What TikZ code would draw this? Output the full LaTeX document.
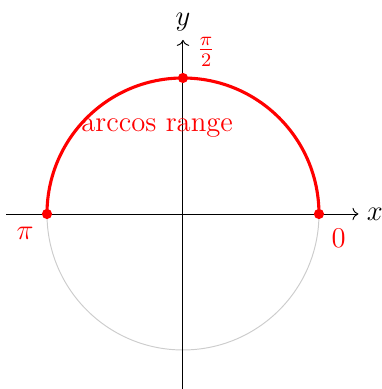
\documentclass[tikz,border=0pt]{standalone}
\usepackage{amsmath}
\usetikzlibrary{arrows.meta, positioning}

\begin{document}
\begin{tikzpicture}[
    axis/.style={->, line width=0.4pt},
    fullcircle/.style={draw=black!20, line width=0.4pt},
    rangearc/.style={draw=red, line width=1.3pt},
    pt/.style={circle, fill=red, inner sep=0pt, minimum size=0.15cm},
    redlabel/.style={text=red, font=\large},
    axlabel/.style={font=\large},
]
\useasboundingbox (-2.691,-2.574) rectangle (2.926,3.147);
% unit circle and the arccos part of it
\draw[fullcircle] (0,0) circle (2);
\draw[rangearc] (2,0) arc (0:180:2);
% axes
\coordinate (xl) at (-2.6,0);
\coordinate (xr) at (2.58,0);
\coordinate (yb) at (0,-2.6);
\coordinate (yt) at (0,2.56);
\draw[axis] (xl) -- (xr);
\draw[axis] (yb) -- (yt);
\node[axlabel, right=0pt of xr] (xlab) {$x$};
\node[axlabel, above=0pt of yt] (ylab) {$y$};
% end points of the range
\node[pt] (p0) at (2,0) {};
\node[pt] (ppi) at (-2,0) {};
\node[pt] (phalf) at (0,2) {};
\node[redlabel] (l0) at (2.29,-0.35) {$0$};
\node[redlabel] (lpi) at (-2.32,-0.28) {$\pi$};
\node[redlabel] (lhalf) at (0.34,2.38) {$\frac{\pi}{2}$};
\node[redlabel] (lrange) at (-0.38,1.27) {arccos range};
\end{tikzpicture}
\end{document}
